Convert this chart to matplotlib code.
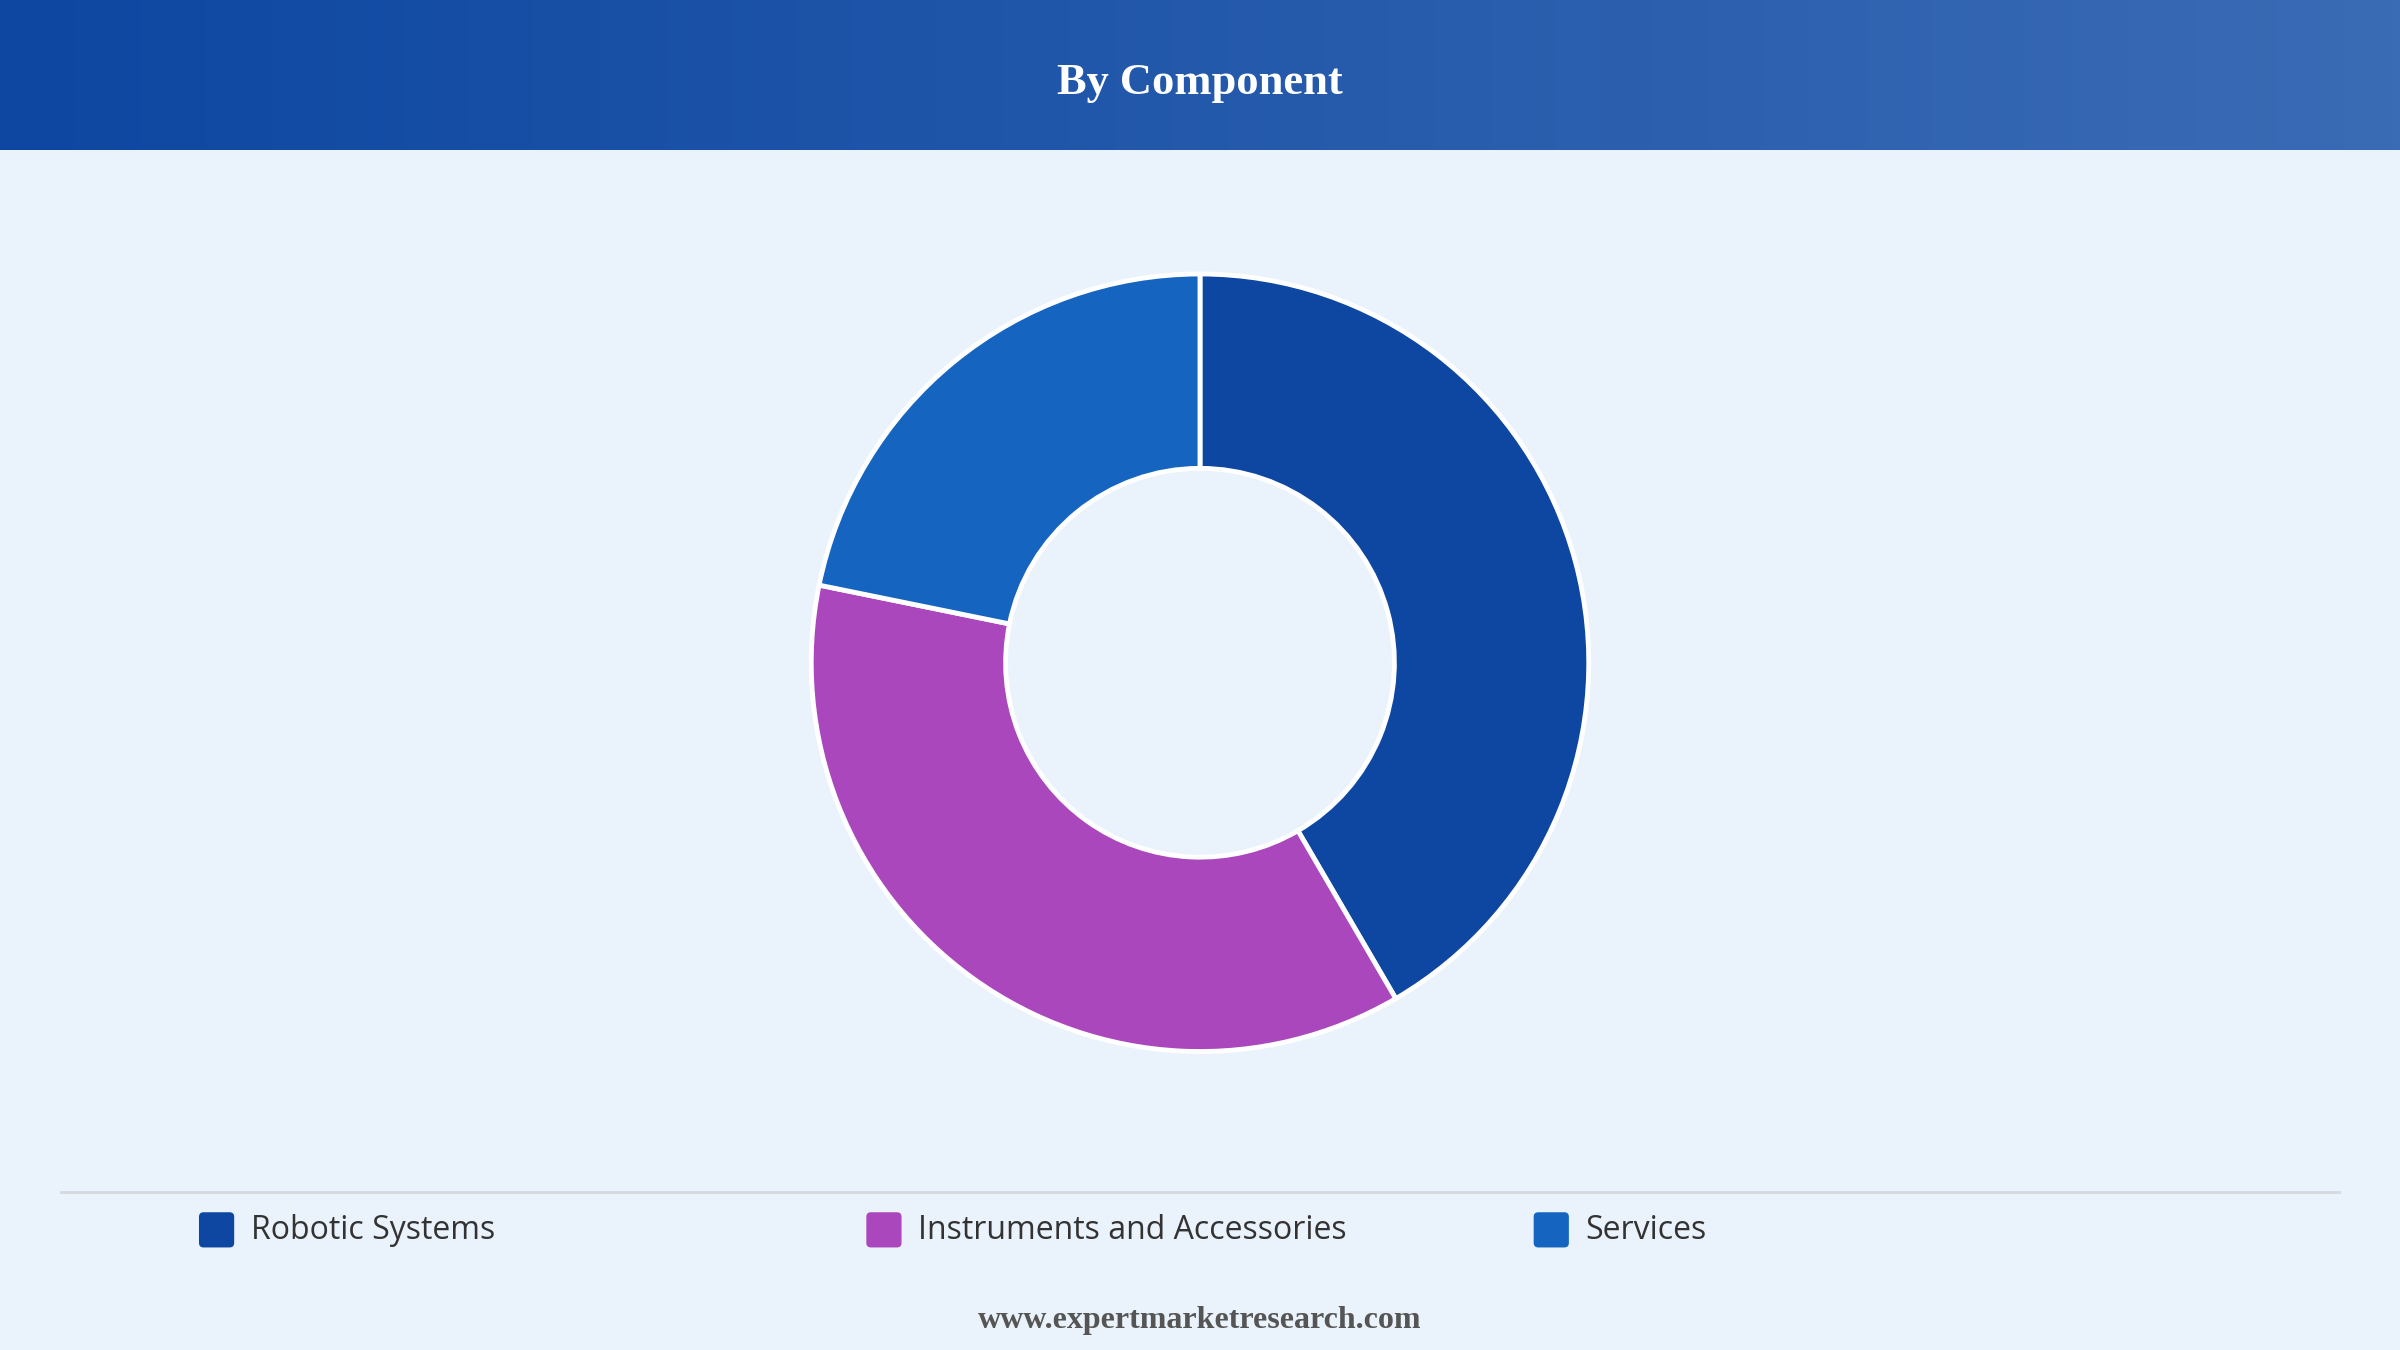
import numpy as np
import matplotlib.pyplot as plt
from matplotlib.patches import FancyBboxPatch
from matplotlib.colors import LinearSegmentedColormap

labels = ["Robotic Systems", "Instruments and Accessories", "Services"]
shares = [41.6, 36.6, 21.8]
colors = ["#0D47A1", "#AB47BC", "#1565C0"]

W, H = 1568, 882
fig = plt.figure(figsize=(24, 13.5), dpi=100)
fig.patch.set_facecolor("#EAF2FC")
ax = fig.add_axes([0, 0, 1, 1])

# header gradient
grad = np.linspace(0, 1, 256).reshape(1, -1)
cmap = LinearSegmentedColormap.from_list("hdr", ["#0D47A1", "#3A6BB5"])
ax.imshow(grad, cmap=cmap, extent=[0, W, 98, 0], aspect="auto", zorder=0)
ax.text(W / 2, 54, "By Component", ha="center", va="center", color="white",
        fontsize=32, fontweight="bold", family="Liberation Serif")

# donut (y axis inverted, so counterclock=True goes clockwise on screen)
ax.pie(shares, colors=colors, center=(784, 433), radius=254, startangle=-90,
       counterclock=True, frame=True,
       wedgeprops=dict(width=127, edgecolor="white", linewidth=3.5))
ax.set_xlim(0, W)
ax.set_ylim(H, 0)
ax.set_aspect("equal")
ax.axis("off")

ax.plot([40, 1528], [779, 779], color="#D5D9DE", linewidth=2)

for x0, lab, c in zip([130, 566, 1002], labels, colors):
    ax.add_patch(FancyBboxPatch((x0, 792), 23, 23, boxstyle="round,pad=0,rounding_size=3",
                                facecolor=c, edgecolor="none"))
    ax.text(x0 + 34, 804, lab, va="center", ha="left", fontsize=23,
            color="#333333", family="Open Sans")

ax.text(W / 2, 863, "www.expertmarketresearch.com", ha="center", va="center",
        fontsize=23, fontweight="bold", color="#555555", family="Liberation Serif")

fig.savefig("out.png", dpi=100, facecolor=fig.get_facecolor())
